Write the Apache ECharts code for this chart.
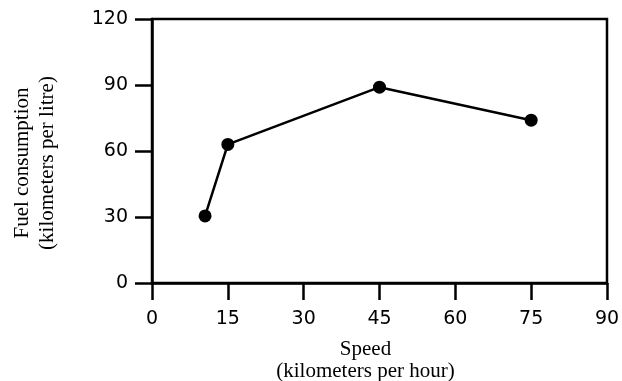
<!DOCTYPE html>
<html>
<head>
<meta charset="utf-8">
<script src="https://cdn.jsdelivr.net/npm/echarts@6/dist/echarts.min.js"></script>
<style>
html,body{margin:0;padding:0;background:#fff;}
#chart{width:622px;height:381px;}
</style>
</head>
<body>
<div id="chart"></div>
<script>
var speeds = [10.5, 15, 45, 75];
var fuel = [30.5, 63, 89, 74];
var xTicks = [0, 15, 30, 45, 60, 75, 90];
var yTicks = [0, 30, 60, 90, 120];
var xTitle = 'Speed\n(kilometers per hour)';
var yTitle = 'Fuel consumption\n(kilometers per litre)';

var chart = echarts.init(document.getElementById('chart'), null, {renderer: 'canvas'});
var axisCommon = {
  axisLine: {show: true, lineStyle: {color: '#000', width: 2.5}},
  axisTick: {show: true, inside: false, length: 17, lineStyle: {color: '#000', width: 2.5}},
  splitLine: {show: false}
};
chart.setOption({
  animation: false,
  backgroundColor: '#fff',
  grid: {left: 152, right: 15, top: 19, bottom: 98, show: true, borderColor: '#000', borderWidth: 2.5,
         containLabel: false, outerBoundsMode: 'none'},
  xAxis: Object.assign({}, axisCommon, {
    type: 'value', min: xTicks[0], max: xTicks[xTicks.length - 1], interval: 15,
    name: xTitle, nameLocation: 'middle', nameGap: 55,
    nameTextStyle: {fontFamily: 'Liberation Serif', fontSize: 21, color: '#000', lineHeight: 22, padding: [0, 28, 0, 0]},
    axisLabel: {fontFamily: 'DejaVu Sans', fontSize: 19, color: '#000', margin: 27}
  }),
  yAxis: Object.assign({}, axisCommon, {
    type: 'value', min: yTicks[0], max: yTicks[yTicks.length - 1], interval: 30,
    name: yTitle, nameLocation: 'middle', nameGap: 92,
    nameTextStyle: {fontFamily: 'Liberation Serif', fontSize: 21, color: '#000', lineHeight: 25, padding: [0, 24, 0, 0]},
    axisLabel: {fontFamily: 'DejaVu Sans', fontSize: 19, color: '#000', margin: 24}
  }),
  series: [{
    type: 'line',
    data: speeds.map(function (s, i) { return [s, fuel[i]]; }),
    symbol: 'circle', symbolSize: 13,
    lineStyle: {color: '#000', width: 2.5},
    itemStyle: {color: '#000'}
  }]
});
</script>
</body>
</html>
